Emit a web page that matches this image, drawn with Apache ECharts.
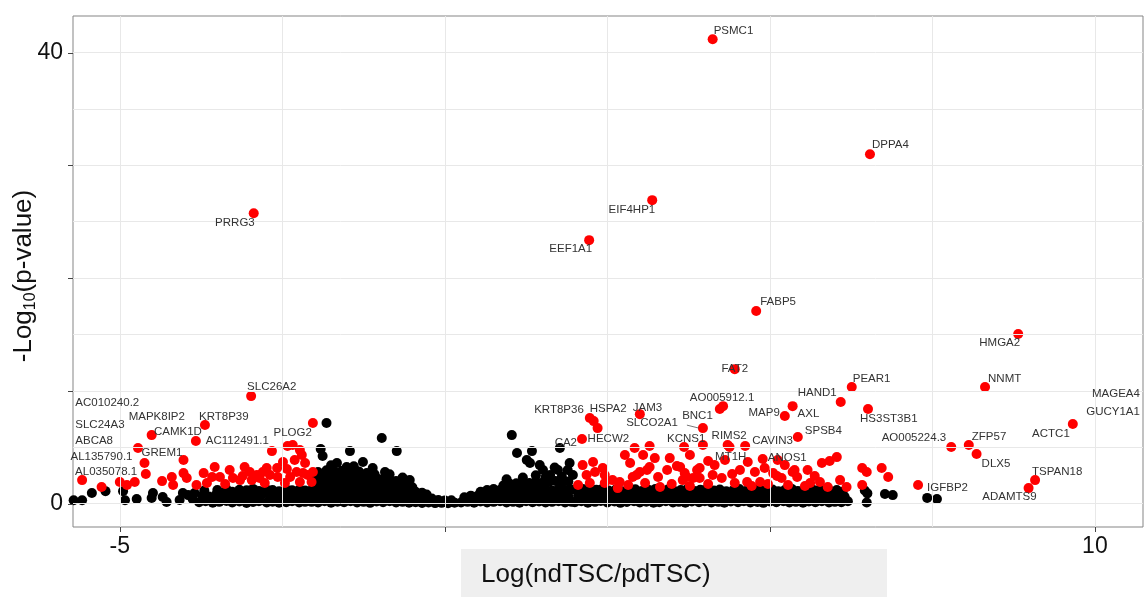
<!DOCTYPE html>
<html>
<head>
<meta charset="utf-8">
<script src="https://cdn.jsdelivr.net/npm/echarts@6/dist/echarts.min.js"></script>
<style>
  html, body { margin: 0; padding: 0; background: #fff; }
  #chart { width: 1146px; height: 597px; }
</style>
</head>
<body>
<div id="chart"></div>
<script>
// ---- axes ----
const xTicks = [-5, 0, 5, 10];
const xTickLabels = [-5, 10];
const yTicks = [0, 10, 20, 30, 40];
const yTickLabels = [0, 40];
const xGridLines = [-5, -2.5, 0, 2.5, 5, 7.5, 10];
const yGridLines = [0, 5, 10, 15, 20, 25, 30, 35, 40];

// ---- labelled genes: log fold change and -log10(p) ----
const geneNames = ['PSMC1','DPPA4','EIF4HP1','EEF1A1','PRRG3','FABP5','HMGA2','FAT2','PEAR1','NNMT','HAND1','AO005912.1','BNC1','MAP9','AXL','HS3ST3B1','SPSB4','CAVIN3','RIMS2','MT1H','ANOS1','KCNS1','SLCO2A1','JAM3','KRT8P36','HSPA2','HECW2','CA2','AO005224.3','ZFP57','DLX5','ACTC1','TSPAN18','ADAMTS9','IGFBP2','MAGEA4','GUCY1A1','SLC26A2','KRT8P39','MAPK8IP2','CAMK1D','AC112491.1','GREM1','PLOG2','AL035078.1','AL135790.1','AC010240.2','SLC24A3','ABCA8'];
const geneLogFC = [4.12,6.54,3.19,2.22,-2.94,4.79,8.82,4.46,6.26,8.31,6.09,4.28,4.23,5.23,5.35,6.51,5.43,4.62,4.35,4.05,4.89,3.68,3.97,3.0,2.23,2.29,2.35,2.11,7.79,8.06,8.18,9.66,9.08,8.98,7.28,11.0,11.0,-2.98,-3.69,-4.51,-3.83,-2.66,-4.02,-2.03,-5.58,-4.62,-6.3,-6.3,-6.3];
const geneNegLogP = [41.18,30.98,26.91,23.36,25.75,17.07,15.03,11.92,10.33,10.33,9.0,8.64,8.38,7.76,8.64,8.38,5.9,5.1,5.19,3.77,3.95,5.01,6.69,7.93,7.58,7.31,6.69,5.72,5.01,5.19,4.39,7.05,2.08,1.37,1.64,9.71,8.11,9.53,6.96,6.07,5.54,4.65,3.86,7.14,2.08,3.59,8.95,7.01,5.54];

// ---- other significant genes (red) ----
const sigDown = [[-5.28,1.46],[-5.0,1.91],[-4.89,1.64],[-4.77,1.91],[-4.72,4.92],[-4.6,2.62],[-4.35,1.99],[-4.2,2.35],[-4.18,1.64],[-4.02,2.7],[-3.97,2.26],[-3.82,1.64],[-3.71,2.7],[-3.66,1.82],[-3.58,2.35],[-3.54,3.24],[-3.46,2.35],[-3.38,1.73],[-3.31,2.97],[-3.26,2.26],[-3.15,2.08],[-3.11,2.44],[-3.08,3.24],[-3.0,2.79],[-2.97,2.08],[-2.89,2.53],[-2.85,2.26],[-2.8,2.79],[-2.77,1.82],[-2.74,3.15],[-2.69,2.53],[-2.58,3.15],[-2.57,2.35],[-2.49,3.68],[-2.46,1.82],[-2.43,3.06],[-2.42,5.1],[-2.38,2.35],[-2.34,5.19],[-2.31,3.86],[-2.28,2.79],[-2.23,4.74],[-2.23,1.91],[-2.2,4.3],[-2.18,2.7],[-2.15,3.59],[-2.11,2.53],[-2.05,1.91],[-2.03,2.79]];
const sigUp = [[2.05,1.64],[2.12,3.41],[2.18,2.53],[2.23,1.82],[2.28,3.68],[2.31,2.79],[2.43,3.15],[2.46,2.53],[2.46,1.82],[2.58,2.08],[2.66,1.37],[2.69,1.91],[2.77,4.3],[2.82,1.64],[2.85,3.59],[2.89,2.35],[2.92,4.92],[2.95,2.53],[3.0,2.79],[3.05,4.3],[3.08,1.82],[3.11,2.97],[3.15,5.1],[3.15,3.24],[3.23,4.03],[3.28,2.35],[3.31,1.46],[3.42,2.97],[3.46,4.03],[3.49,1.73],[3.57,3.32],[3.62,3.24],[3.66,2.08],[3.69,2.7],[3.72,2.35],[3.77,4.3],[3.77,1.55],[3.82,2.26],[3.88,2.97],[3.92,3.15],[3.92,2.26],[3.97,5.19],[4.05,1.73],[4.12,2.53],[4.15,3.41],[4.26,2.26],[4.31,3.86],[4.38,5.01],[4.42,2.62],[4.46,1.82],[4.54,2.97],[4.65,1.91],[4.66,3.68],[4.72,1.55],[4.77,2.79],[4.85,1.91],[4.92,3.15],[4.97,1.73],[5.05,2.7],[5.11,2.44],[5.12,3.86],[5.18,2.26],[5.23,3.41],[5.28,1.64],[5.35,2.79],[5.38,2.97],[5.42,2.35],[5.54,1.55],[5.58,2.97],[5.62,1.82],[5.69,2.44],[5.77,1.91],[5.8,3.59],[5.89,1.46],[5.92,3.77],[6.03,4.12],[6.08,2.08],[6.18,1.46],[6.42,3.15],[6.49,2.79],[6.42,1.64],[6.72,3.15],[6.82,2.35]];

// ---- non-significant genes (black) ----
const nsFarLeft = [[-5.71,0.3],[-5.58,0.3],[-5.43,0.93],[-5.22,1.1],[-4.95,1.1],[-4.92,0.3],[-4.74,0.4],[-4.51,0.49],[-4.49,0.93],[-4.34,0.58],[-4.28,0.13],[-4.08,0.31],[-4.03,0.93],[-3.95,0.75],[-3.88,0.4],[-3.85,0.93]];
const nsLeft = [[-3.78,0.12],[-3.68,0.2],[-3.57,0.08],[-3.47,0.15],[-3.36,0.22],[-3.27,0.1],[-3.16,0.18],[-3.05,0.05],[-2.95,0.14],[-2.86,0.2],[-2.74,0.1],[-2.65,0.16],[-2.55,0.08],[-2.44,0.12],[-2.35,0.2],[-2.24,0.1],[-2.15,0.15],
  [-3.73,0.7],[-3.63,0.62],[-3.52,0.78],[-3.42,0.66],[-3.31,0.72],[-3.22,0.6],[-3.11,0.75],[-3.0,0.68],[-2.9,0.64],[-2.81,0.8],[-2.69,0.7],[-2.6,0.62],[-2.5,0.74],[-2.39,0.68],[-2.3,0.76],[-2.19,0.66],[-2.1,0.7],
  [-3.7,1.15],[-3.5,1.2],[-3.36,1.28],[-3.27,1.05],[-3.16,1.22],[-3.05,1.18],[-2.95,1.3],[-2.86,1.12],[-2.74,1.24],[-2.65,1.2],[-2.55,1.08],[-2.44,1.26],[-2.35,1.18],[-2.24,1.22],[-2.15,1.15]];
const nsCentreLeft = [[-2.05,0.15],[-1.95,0.1],[-1.85,0.2],[-1.75,0.08],[-1.65,0.16],[-1.55,0.12],[-1.45,0.2],[-1.35,0.1],[-1.25,0.15],[-1.15,0.06],[-1.05,0.18],[-0.95,0.12],[-0.85,0.2],[-0.75,0.1],[-0.65,0.15],[-0.55,0.08],[-0.45,0.12],[-0.35,0.05],[-0.25,0.1],[-0.15,0.04],[-0.05,0.06],[0.05,0.03],[0.15,0.08],
  [-2.0,0.7],[-1.9,0.62],[-1.8,0.76],[-1.7,0.66],[-1.6,0.72],[-1.5,0.6],[-1.4,0.75],[-1.3,0.68],[-1.2,0.64],[-1.1,0.78],[-1.0,0.7],[-0.9,0.62],[-0.8,0.74],[-0.7,0.66],[-0.6,0.72],[-0.5,0.6],[-0.4,0.65],[-0.3,0.55],[-0.2,0.45],[-0.1,0.32],[0.0,0.28],[0.1,0.3],
  [-2.05,1.2],[-1.95,1.28],[-1.85,1.15],[-1.75,1.25],[-1.65,1.3],[-1.55,1.18],[-1.45,1.24],[-1.35,1.12],[-1.25,1.28],[-1.15,1.2],[-1.05,1.25],[-0.95,1.15],[-0.85,1.3],[-0.75,1.2],[-0.65,1.22],[-0.55,1.15],[-0.45,1.05],[-0.35,0.95],[-0.28,0.8],
  [-2.0,1.8],[-1.9,1.85],[-1.8,1.75],[-1.7,1.88],[-1.6,1.8],[-1.5,1.72],[-1.4,1.85],[-1.3,1.78],[-1.2,1.82],[-1.1,1.75],[-1.0,1.85],[-0.9,1.7],[-0.8,1.78],[-0.7,1.65],[-0.6,1.55],[-0.5,1.45],
  [-2.05,2.3],[-1.95,2.4],[-1.85,2.35],[-1.75,2.45],[-1.65,2.3],[-1.55,2.42],[-1.45,2.35],[-1.35,2.4],[-1.25,2.3],[-1.15,2.35],[-1.05,2.25],[-0.95,2.2],[-0.85,2.1],[-0.75,2.0],
  [-1.95,2.8],[-1.82,2.95],[-1.7,2.85],[-1.58,2.9],[-1.45,2.8],[-1.32,2.85],[-1.2,2.7],[-1.08,2.6],
  [-1.82,7.14],[-1.91,4.83],[-1.88,4.21],[-1.75,3.4],[-1.66,3.59],[-1.51,3.24],[-1.46,4.65],[-1.4,3.3],[-1.26,3.68],[-1.11,3.15],[-0.97,5.81],[-0.92,2.79],[-0.85,2.6],[-0.74,4.65],[-0.65,2.3],[-0.54,2.08]];
const nsCentreRight = [[0.25,0.1],[0.35,0.15],[0.45,0.08],[0.55,0.18],[0.65,0.1],[0.75,0.15],[0.85,0.2],[0.95,0.1],[1.05,0.15],[1.15,0.08],[1.25,0.2],[1.35,0.12],[1.45,0.18],[1.55,0.1],[1.65,0.15],[1.75,0.2],[1.85,0.1],[1.95,0.15],
  [0.3,0.55],[0.4,0.7],[0.5,0.66],[0.6,0.75],[0.7,0.68],[0.8,0.72],[0.9,0.64],[1.0,0.78],[1.1,0.7],[1.2,0.62],[1.3,0.75],[1.4,0.68],[1.5,0.72],[1.6,0.66],[1.7,0.78],[1.8,0.7],[1.9,0.62],
  [0.55,1.05],[0.65,1.2],[0.75,1.28],[0.85,1.2],[0.95,1.3],[1.05,1.22],[1.15,1.28],[1.25,1.18],[1.35,1.3],[1.45,1.22],[1.55,1.25],[1.65,1.15],[1.75,1.28],[1.85,1.2],[1.95,1.25],
  [0.9,1.6],[1.0,1.75],[1.1,1.8],[1.2,1.9],[1.3,1.82],[1.4,1.95],[1.5,1.85],[1.6,1.9],[1.7,2.0],[1.8,1.88],[1.9,1.95],
  [1.03,6.07],[1.11,4.48],[1.34,4.65],[1.26,3.86],[1.31,3.59],[1.46,3.41],[1.51,2.97],[1.77,4.92],[1.92,3.59],[1.74,2.97],[1.62,2.53],[1.89,2.97],[1.97,2.53],[1.69,3.2],[1.4,2.5],[1.2,2.3],[0.95,2.15],[1.55,2.3],[1.8,2.4]];
const nsRight = [[2.0,0.12],[2.1,0.2],[2.2,0.08],[2.31,0.15],[2.4,0.22],[2.5,0.1],[2.61,0.18],[2.7,0.06],[2.8,0.14],[2.91,0.2],[3.0,0.1],[3.1,0.16],[3.21,0.08],[3.3,0.12],[3.4,0.2],[3.51,0.1],[3.6,0.15],[3.7,0.07],[3.8,0.18],[3.91,0.12],[4.0,0.2],[4.1,0.1],[4.21,0.15],[4.3,0.08],[4.4,0.18],[4.51,0.12],[4.6,0.2],[4.7,0.1],[4.81,0.14],[4.9,0.06],[5.0,0.18],[5.1,0.12],[5.21,0.2],[5.3,0.1],[5.4,0.15],[5.51,0.08],[5.6,0.18],[5.7,0.12],[5.8,0.2],[5.91,0.1],[6.0,0.15],[6.1,0.12],[6.2,0.2],
  [2.05,0.7],[2.15,0.62],[2.26,0.78],[2.35,0.66],[2.45,0.72],[2.56,0.6],[2.65,0.75],[2.75,0.68],[2.86,0.64],[2.95,0.8],[3.05,0.7],[3.16,0.62],[3.25,0.74],[3.35,0.68],[3.46,0.76],[3.55,0.66],[3.65,0.7],[3.75,0.6],[3.86,0.78],[3.95,0.65],[4.05,0.72],[4.16,0.68],[4.25,0.75],[4.35,0.62],[4.46,0.7],[4.55,0.78],[4.65,0.64],[4.76,0.7],[4.85,0.74],[4.95,0.6],[5.06,0.72],[5.15,0.68],[5.25,0.76],[5.36,0.64],[5.45,0.7],[5.55,0.66],[5.66,0.74],[5.75,0.62],[5.85,0.7],[5.96,0.68],[6.05,0.72],[6.15,0.6],
  [2.02,1.2],[2.12,1.28],[2.22,1.1],[2.33,1.22],[2.42,1.3],[2.52,1.15],[2.63,1.25],[2.72,1.08],[2.83,1.2],[2.93,1.27],[3.03,1.12],[3.13,1.22],[3.24,1.3],[3.33,1.15],[3.43,1.24],[3.54,1.1],[3.63,1.2],[3.73,1.28],[3.84,1.12],[3.93,1.22],[4.03,1.3],[4.14,1.15],[4.23,1.25],[4.33,1.08],[4.44,1.2],[4.53,1.28],[4.63,1.12],[4.74,1.22],[4.83,1.3],[4.93,1.15],[5.04,1.25],[5.13,1.1],[5.23,1.2],[5.34,1.28],[5.43,1.12],[5.53,1.22],[5.64,1.3],[5.73,1.15],[5.83,1.25],[5.94,1.1],[6.03,1.2],[6.12,1.05]];
const nsTail = [[6.46,1.15],[6.5,0.9],[6.49,0.1],[6.77,0.85],[6.89,0.75],[7.42,0.5],[7.57,0.4]];

// ---- label placement: [dx, dy, text anchor] in pixels from the point ----
const labelPlacement = {
  'PSMC1':[1,-8,'left'], 'DPPA4':[2,-9,'left'], 'EIF4HP1':[3,10,'right'], 'EEF1A1':[3,9,'right'],
  'PRRG3':[1,10,'right'], 'FABP5':[4,-9,'left'], 'HMGA2':[2,9,'right'], 'FAT2':[0,0,'center'],
  'PEAR1':[1,-8,'left'], 'NNMT':[3,-8,'left'], 'HAND1':[-4,-9,'right'], 'AO005912.1':[-1,-8,'center'],
  'BNC1':[-7,7,'right'], 'MAP9':[-5,-3,'right'], 'AXL':[5,8,'left'], 'HS3ST3B1':[-8,10,'left'],
  'SPSB4':[7,-6,'left'], 'CAVIN3':[7,-5,'left'], 'RIMS2':[-16,-9,'left'], 'MT1H':[7,-4,'left'],
  'ANOS1':[5,-1,'left'], 'KCNS1':[-17,-8,'left'], 'SLCO2A1':[-25,-5,'right'], 'JAM3':[-7,-6,'left'],
  'KRT8P36':[-6,-8,'right'], 'HSPA2':[-4,-12,'left'], 'HECW2':[-10,11,'left'], 'CA2':[-5,4,'right'],
  'AO005224.3':[-5,-9,'right'], 'ZFP57':[3,-8,'left'], 'DLX5':[5,10,'left'], 'ACTC1':[-3,10,'right'],
  'TSPAN18':[-3,-8,'left'], 'ADAMTS9':[8,9,'right'], 'IGFBP2':[9,3,'left'], 'MAGEA4':[-20,0,'right'],
  'GUCY1A1':[-20,0,'right'], 'SLC26A2':[-4,-9,'left'], 'KRT8P39':[-6,-8,'left'], 'MAPK8IP2':[-23,-18,'left'],
  'CAMK1D':[6,-9,'right'], 'AC112491.1':[-3,-10,'right'], 'GREM1':[-1,-7,'right'], 'PLOG2':[-1,10,'right'],
  'AL035078.1':[-7,-8,'left'], 'AL135790.1':[-12,-6,'right'], 'AC010240.2':[40,0,'left'],
  'SLC24A3':[40,0,'left'], 'ABCA8':[40,0,'left']
};
const leaderLines = { 'SLCO2A1': [-16, -3, -4, 0] };

const FONT = '"Liberation Sans", Arial, Helvetica, sans-serif';
const nsPoints = [].concat(nsFarLeft, nsLeft, nsCentreLeft, nsCentreRight, nsRight, nsTail);
const genePoints = geneNames.map((n, i) => ({ name: n, value: [geneLogFC[i], geneNegLogP[i]] }));
const sigPoints = [].concat(sigDown, sigUp, genePoints);

const chart = echarts.init(document.getElementById('chart'), null, { renderer: 'canvas' });

const X_MIN = -5.72, X_MAX = 10.74, Y_MIN = -2.08, Y_MAX = 43.24;

const option = {
  animation: false,
  backgroundColor: '#ffffff',
  grid: {
    left: 73, right: 3, top: 16, bottom: 70,
    show: true, borderColor: '#858585', borderWidth: 1, backgroundColor: '#ffffff'
  },
  xAxis: {
    type: 'value', min: X_MIN, max: X_MAX,
    axisLine: { show: false },
    splitLine: { show: false },
    axisTick: { show: false },
    axisLabel: { customValues: xTickLabels, fontSize: 23, fontFamily: FONT, color: '#111', margin: 8 }
  },
  yAxis: {
    type: 'value', min: Y_MIN, max: Y_MAX,
    axisLine: { show: false },
    splitLine: { show: false },
    axisTick: { show: false },
    axisLabel: { customValues: yTickLabels, fontSize: 23, fontFamily: FONT, color: '#111', margin: 10 }
  },
  series: [
    {
      name: 'grid', type: 'scatter', data: [], z: 1, silent: true,
      markLine: {
        silent: true, symbol: ['none', 'none'], animation: false,
        label: { show: false },
        lineStyle: { color: '#e8e8e8', width: 1, type: 'solid' },
        emphasis: { disabled: true },
        data: xGridLines.map(v => ({ xAxis: v })).concat(yGridLines.map(v => ({ yAxis: v })))
      }
    },
    {
      name: 'not significant', type: 'scatter', data: nsPoints, z: 2, silent: true,
      symbolSize: 10, itemStyle: { color: '#000000', opacity: 1 }
    },
    {
      name: 'significant', type: 'scatter', data: sigPoints, z: 3, silent: true,
      symbolSize: 10, itemStyle: { color: '#ff0000', opacity: 1 }
    }
  ]
};
chart.setOption(option);

// Gene names, tick marks and axis titles are placed once the scales are known.
const graphics = [];
const toPx = v => chart.convertToPixel({ gridIndex: 0 }, v);

genePoints.forEach(g => {
  const p = toPx(g.value);
  const L = labelPlacement[g.name];
  graphics.push({
    type: 'text', x: p[0] + L[0], y: p[1] + L[1], z: 10, silent: true,
    style: { text: g.name, align: L[2], verticalAlign: 'middle', fontSize: 11.5, fontFamily: FONT, fill: '#333333' }
  });
  const lead = leaderLines[g.name];
  if (lead) {
    graphics.push({
      type: 'line', z: 10, silent: true,
      shape: { x1: p[0] + lead[0], y1: p[1] + lead[1], x2: p[0] + lead[2], y2: p[1] + lead[3] },
      style: { stroke: '#555555', lineWidth: 0.8 }
    });
  }
});

// outward tick marks on the bottom and left edges of the panel
const panelBottom = toPx([0, Y_MIN])[1];
const panelLeft = toPx([X_MIN, 0])[0];
xTicks.forEach(v => {
  const px = Math.round(toPx([v, 0])[0]) + 0.5;
  graphics.push({ type: 'line', z: 10, silent: true,
    shape: { x1: px, y1: panelBottom, x2: px, y2: panelBottom + 5 },
    style: { stroke: '#444444', lineWidth: 1 } });
});
yTicks.forEach(v => {
  const py = Math.round(toPx([0, v])[1]) + 0.5;
  graphics.push({ type: 'line', z: 10, silent: true,
    shape: { x1: panelLeft - 5, y1: py, x2: panelLeft, y2: py },
    style: { stroke: '#444444', lineWidth: 1 } });
});

// y-axis title with subscript
graphics.push({
  type: 'text', x: 24, y: 276, rotation: Math.PI / 2, z: 10, silent: true,
  style: {
    text: '{a|-Log}{b|10}{a|(p-value)}', align: 'center', verticalAlign: 'middle',
    rich: {
      a: { fontSize: 26, fontFamily: FONT, fill: '#111', lineHeight: 30 },
      b: { fontSize: 16, fontFamily: FONT, fill: '#111', verticalAlign: 'bottom', lineHeight: 22 }
    }
  }
});
// x-axis title on a light grey band
graphics.push({
  type: 'rect', z: 9, silent: true,
  shape: { x: 461, y: 549, width: 426, height: 60 },
  style: { fill: '#efefef' }
});
graphics.push({
  type: 'text', x: 481, y: 575, z: 10, silent: true,
  style: { text: 'Log(ndTSC/pdTSC)', align: 'left', verticalAlign: 'middle', fontSize: 26, fontFamily: FONT, fill: '#111' }
});
chart.setOption({ graphic: graphics });
</script>
</body>
</html>
